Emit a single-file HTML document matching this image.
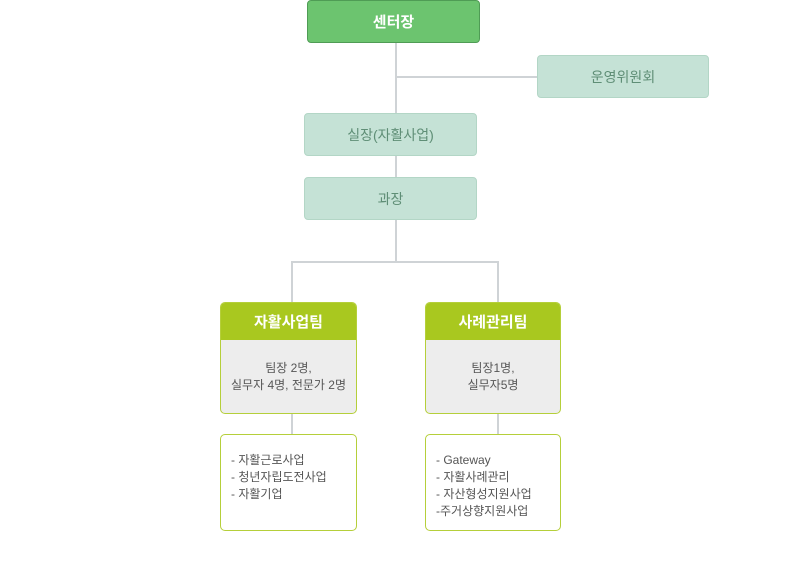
<!DOCTYPE html>
<html><head><meta charset="utf-8"><style>
body{margin:0;width:796px;height:573px;background:#fff;position:relative;font-family:"Liberation Sans","Noto Sans CJK KR",sans-serif;overflow:hidden}
.b{position:absolute;box-sizing:border-box;display:flex;align-items:center;justify-content:center;text-align:center;border-radius:4px}
.m{background:#c5e2d6;border:1px solid #b3d6c6;color:#5f8e76;font-size:14px}
.l{position:absolute;background:#cfd3d6}
.t{position:absolute;box-sizing:border-box;border:1px solid #b5cf3a;border-radius:5px;overflow:hidden;background:#ededed}
.t .h{height:37px;background:#a9c81f;color:#fff;font-size:15px;font-weight:bold;display:flex;align-items:center;justify-content:center}
.t .c{height:73px;display:flex;align-items:center;justify-content:center;text-align:center;font-size:12px;color:#555;line-height:17px}
.w{position:absolute;box-sizing:border-box;border:1px solid #b5cf3a;border-radius:5px;background:#fff;font-size:12px;color:#555;line-height:17px;padding:17px 0 0 10px}
</style></head><body>
<div class="l" style="left:395px;top:42px;width:2px;height:72px"></div>
<div class="l" style="left:395px;top:76px;width:142px;height:2px"></div>
<div class="l" style="left:395px;top:156px;width:2px;height:22px"></div>
<div class="l" style="left:395px;top:220px;width:2px;height:42px"></div>
<div class="l" style="left:291px;top:261px;width:208px;height:2px"></div>
<div class="l" style="left:291px;top:261px;width:2px;height:41px"></div>
<div class="l" style="left:497px;top:261px;width:2px;height:41px"></div>
<div class="l" style="left:291px;top:414px;width:2px;height:21px"></div>
<div class="l" style="left:497px;top:414px;width:2px;height:21px"></div>
<div class="b" style="left:307px;top:0;width:173px;height:43px;background:#6cc46f;border:1px solid #4f9c55;color:#fff;font-size:15px;font-weight:bold">센터장</div>
<div class="b m" style="left:537px;top:55px;width:172px;height:43px">운영위원회</div>
<div class="b m" style="left:304px;top:113px;width:173px;height:43px">실장(자활사업)</div>
<div class="b m" style="left:304px;top:177px;width:173px;height:43px">과장</div>
<div class="t" style="left:220px;top:302px;width:137px;height:112px"><div class="h">자활사업팀</div><div class="c">팀장 2명,<br>실무자 4명, 전문가 2명</div></div>
<div class="t" style="left:425px;top:302px;width:136px;height:112px"><div class="h">사례관리팀</div><div class="c">팀장1명,<br>실무자5명</div></div>
<div class="w" style="left:220px;top:434px;width:137px;height:97px">- 자활근로사업<br>- 청년자립도전사업<br>- 자활기업</div>
<div class="w" style="left:425px;top:434px;width:136px;height:97px">- Gateway<br>- 자활사례관리<br>- 자산형성지원사업<br>-주거상향지원사업</div>
</body></html>
